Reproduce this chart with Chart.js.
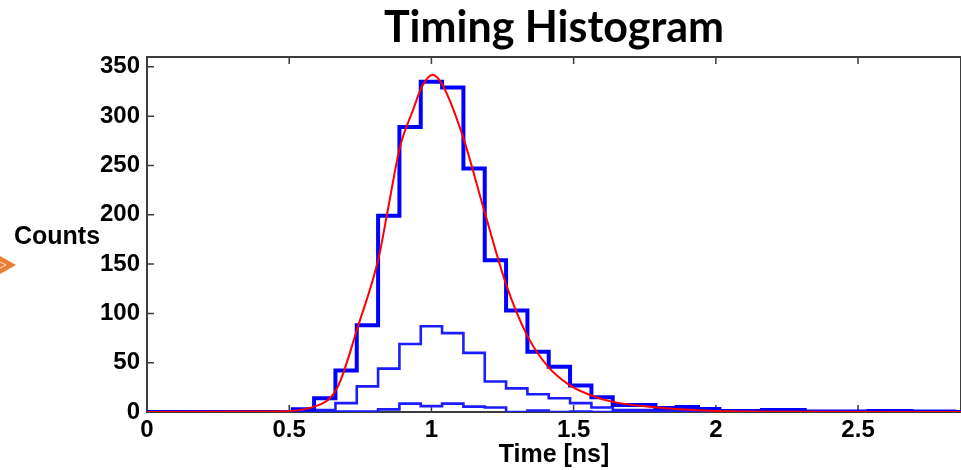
<!DOCTYPE html>
<html>
<head>
<meta charset="utf-8">
<script src="https://cdn.jsdelivr.net/npm/chart.js@4.4.0/dist/chart.umd.min.js"></script>
<style>
  html, body { margin: 0; padding: 0; background: #fff; }
</style>
</head>
<body>
<canvas id="canvas" width="961" height="470"></canvas>
<script>
// histogram bins (ns) and counts
const binWidth = 0.075;
const binCenters = [0.55, 0.625, 0.7, 0.775, 0.85, 0.925, 1.0, 1.075, 1.15, 1.225, 1.3,
  1.375, 1.45, 1.525, 1.6, 1.675, 1.75, 1.825, 1.9, 1.975, 2.05, 2.125, 2.2, 2.275,
  2.35, 2.425, 2.5, 2.575, 2.65, 2.725, 2.8];
const countsAll = [2.7, 14, 42, 88, 199, 289, 335, 329, 247, 154, 103, 61, 46, 27, 15, 7,
  7, 4, 5, 3, 1, 1, 2, 2, 0.5, 0.5, 0.5, 1, 1, 0.5, 0.5];
const countsMid = [0, 2, 9, 26, 44, 69, 87, 80, 60, 31, 24, 18, 14, 9, 4.5, 2, 2, 1, 1,
  0.5, 0, 0, 0, 0, 0, 0, 0, 0, 0, 0, 0];
const countsLow = [0, 0, 0.5, 0.5, 2.7, 8.5, 6, 8.5, 5.5, 4.5, 0, 1.5, 0, 0.5, 0, 0, 0,
  0, 0, 0, 0, 0, 0, 0, 0, 0, 0, 0, 0, 0, 0];

// fitted curve, sampled from the red line
const fitTime = [0, 0.45, 0.583, 0.668, 0.742, 0.815, 0.843, 0.889, 0.935, 0.967, 1.004,
  1.04, 1.111, 1.185, 1.262, 1.336, 1.41, 1.487, 1.56, 1.634, 1.786, 1.873, 2.0, 2.3, 2.862];
const fitCounts = [0, 0.5, 5, 24, 87, 157, 199, 268, 306, 330, 342,
  331, 279, 205, 130, 78, 46, 27, 17, 10.5, 4.7, 2.7, 1, 0.3, 0];

const xMax = 2.862;
const yMax = 360;
const xTicks = [0, 0.5, 1, 1.5, 2, 2.5];
const yTicks = [0, 50, 100, 150, 200, 250, 300, 350];

function steps(counts) {
  let pts = [{ x: 0, y: 0 }];
  binCenters.forEach((c, i) => pts.push({ x: c - binWidth / 2, y: counts[i] }));
  pts.push({ x: binCenters[binCenters.length - 1] + binWidth / 2, y: 0 });
  pts.push({ x: xMax, y: 0 });
  return pts;
}

const tickFont = { family: 'Liberation Sans, Arial, sans-serif', size: 24, weight: 'bold' };

// box around the plot with inward ticks, like matlab
const framePlugin = {
  id: 'frame',
  beforeDatasetsDraw(chart) {
    const { ctx, chartArea: a, scales } = chart;
    ctx.save();
    ctx.strokeStyle = '#3c3c3c';
    ctx.lineWidth = 2;
    ctx.strokeRect(a.left, a.top, a.right - a.left, a.bottom - a.top);
    ctx.lineWidth = 1.5;
    ctx.beginPath();
    scales.x.ticks.forEach(t => {
      const px = scales.x.getPixelForValue(t.value);
      ctx.moveTo(px, a.bottom); ctx.lineTo(px, a.bottom - 7);
      ctx.moveTo(px, a.top); ctx.lineTo(px, a.top + 7);
    });
    scales.y.ticks.forEach(t => {
      const py = scales.y.getPixelForValue(t.value);
      ctx.moveTo(a.left, py); ctx.lineTo(a.left + 7, py);
    });
    ctx.stroke();
    ctx.restore();
  },
  afterDraw(chart) {
    const ctx = chart.ctx;
    ctx.save();
    // y label, horizontal
    ctx.fillStyle = '#000';
    ctx.font = 'bold 25px Liberation Sans, Arial, sans-serif';
    ctx.textBaseline = 'middle';
    ctx.textAlign = 'left';
    ctx.fillText('Counts', 14, 237);
    // orange arrow cut off at the left edge
    ctx.fillStyle = '#ed7d31';
    ctx.beginPath();
    ctx.moveTo(0, 256); ctx.lineTo(16, 265); ctx.lineTo(0, 274);
    ctx.closePath();
    ctx.fill();
    ctx.strokeStyle = '#fff';
    ctx.lineWidth = 0.8;
    ctx.beginPath();
    ctx.moveTo(0, 262); ctx.lineTo(6, 265); ctx.lineTo(0, 268);
    ctx.stroke();
    ctx.restore();
  }
};

let options = {
  type: 'line',
  data: {
    datasets: [
      {
        label: 'Fit',
        data: fitTime.map((t, i) => ({ x: t, y: fitCounts[i] })),
        borderColor: '#ff0000',
        borderWidth: 2,
        pointRadius: 0,
        cubicInterpolationMode: 'monotone',
        order: 0
      },
      {
        label: 'All',
        data: steps(countsAll),
        borderColor: '#0000ff',
        borderWidth: 4,
        pointRadius: 0,
        stepped: 'before',
        order: 1
      },
      {
        label: 'Mid',
        data: steps(countsMid),
        borderColor: '#1c1cff',
        borderWidth: 2.6,
        pointRadius: 0,
        stepped: 'before',
        order: 2
      },
      {
        label: 'Low',
        data: steps(countsLow),
        borderColor: '#1c1cff',
        borderWidth: 2.6,
        pointRadius: 0,
        stepped: 'before',
        order: 3
      }
    ]
  },
  options: {
    responsive: false,
    animation: false,
    layout: { padding: 0 },
    plugins: {
      legend: { display: false },
      tooltip: { enabled: false },
      title: {
        display: true,
        fullSize: false,
        text: 'Timing Histogram',
        color: '#000',
        font: { family: 'Lato, Calibri, sans-serif', size: 43, weight: 'bold', lineHeight: 1 },
        padding: { top: 7, bottom: 7 }
      }
    },
    scales: {
      x: {
        type: 'linear',
        min: 0,
        max: xMax,
        afterBuildTicks: s => { s.ticks = xTicks.map(v => ({ value: v })); },
        afterFit: s => { s.height = 58; },
        grid: { display: false, drawTicks: false },
        border: { display: false },
        ticks: {
          color: '#000',
          font: tickFont,
          padding: 4,
          maxRotation: 0,
          callback: v => String(v)
        },
        title: {
          display: true,
          text: 'Time [ns]',
          color: '#000',
          font: { family: 'Liberation Sans, Arial, sans-serif', size: 25, weight: 'bold', lineHeight: 1.2 },
          padding: 0
        }
      },
      y: {
        min: 0,
        max: yMax,
        afterBuildTicks: s => { s.ticks = yTicks.map(v => ({ value: v })); },
        afterFit: s => { s.width = 147; },
        grid: { display: false, drawTicks: false },
        border: { display: false },
        ticks: {
          color: '#000',
          font: tickFont,
          padding: 7
        }
      }
    }
  },
  plugins: [framePlugin]
};

let chart = new Chart(document.getElementById('canvas'), options);
</script>
</body>
</html>
